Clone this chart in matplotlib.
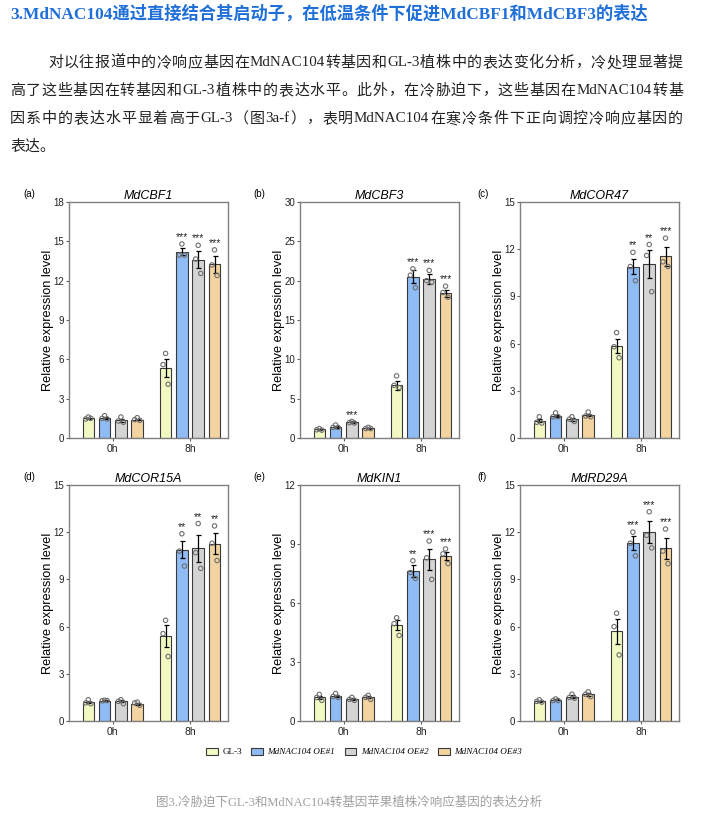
"""Cold-responsive gene expression in GL-3 and MdNAC104 OE lines (page screenshot)."""
import re

import matplotlib
matplotlib.use("Agg")
import matplotlib.pyplot as plt
from matplotlib.patches import Patch

W, H = 701, 833

TITLE = "3.MdNAC104通过直接结合其启动子，在低温条件下促进MdCBF1和MdCBF3的表达"
PARA = [
    "对以往报道中的冷响应基因在MdNAC104转基因和GL-3植株中的表达变化分析，冷处理显著提",
    "高了这些基因在转基因和GL-3植株中的表达水平。此外，在冷胁迫下，这些基因在MdNAC104转基",
    "因系中的表达水平显着高于GL-3（图3a-f），表明MdNAC104在寒冷条件下正向调控冷响应基因的",
    "表达。",
]
CAPTION = "图3.冷胁迫下GL-3和MdNAC104转基因苹果植株冷响应基因的表达分析"

times = ["0h", "8h"]
lines = ["GL-3", "MdNAC104 OE#1", "MdNAC104 OE#2", "MdNAC104 OE#3"]
genes = ["MdCBF1", "MdCBF3", "MdCOR47", "MdCOR15A", "MdKIN1", "MdRD29A"]
panel_tags = ["(a)", "(b)", "(c)", "(d)", "(e)", "(f)"]
ymax = [18, 30, 15, 15, 12, 15]
ystep = [3, 5, 3, 3, 3, 3]

# means[time][line], err = SE, pts = three replicates
cbf1_mean = [[1.5, 1.55, 1.35, 1.4], [5.35, 14.2, 13.6, 13.25]]
cbf1_err = [[0.05, 0.08, 0.1, 0.06], [0.7, 0.28, 0.66, 0.63]]
cbf1_pts = [[[1.6, 1.45, 1.5], [1.7, 1.5, 1.45], [1.6, 1.3, 1.2], [1.55, 1.4, 1.35]],
            [[6.45, 5.6, 4.1], [14.8, 13.95, 13.95], [14.7, 13.65, 12.55], [14.35, 13.2, 12.4]]]
cbf1_sig = [["", "", "", ""], ["", "***", "***", "***"]]

cbf3_mean = [[1.1, 1.45, 2.0, 1.25], [6.7, 20.5, 20.2, 18.4]]
cbf3_err = [[0.1, 0.12, 0.1, 0.08], [0.6, 0.8, 0.6, 0.45]]
cbf3_pts = [[[1.2, 1.05, 1.0], [1.65, 1.35, 1.35], [2.1, 1.95, 1.9], [1.35, 1.2, 1.2]],
            [[7.9, 6.7, 6.4], [21.5, 20.7, 19.1], [21.3, 20.0, 19.8], [19.3, 18.5, 17.9]]]
cbf3_sig = [["", "", "***", ""], ["", "***", "***", "***"]]

cor47_mean = [[1.1, 1.42, 1.18, 1.46], [5.87, 10.9, 11.05, 11.55]]
cor47_err = [[0.1, 0.07, 0.08, 0.08], [0.45, 0.5, 0.9, 0.6]]
cor47_pts = [[[1.35, 1.0, 0.95], [1.6, 1.35, 1.35], [1.35, 1.2, 1.05], [1.65, 1.4, 1.35]],
             [[6.7, 5.8, 5.1], [11.8, 10.9, 10.0], [12.3, 11.6, 9.3], [12.7, 11.2, 10.9]]]
cor47_sig = [["", "", "", ""], ["", "**", "**", "***"]]

cor15_mean = [[1.2, 1.3, 1.25, 1.1], [5.38, 10.9, 10.98, 11.28]]
cor15_err = [[0.06, 0.03, 0.07, 0.06], [0.7, 0.55, 0.85, 0.65]]
cor15_pts = [[[1.35, 1.15, 1.1], [1.32, 1.28, 1.3], [1.35, 1.25, 1.1], [1.2, 1.15, 1.0]],
             [[6.4, 5.55, 4.1], [11.9, 10.8, 9.85], [12.55, 10.7, 9.7], [12.4, 11.3, 10.2]]]
cor15_sig = [["", "", "", ""], ["", "**", "**", "**"]]

kin1_mean = [[1.2, 1.28, 1.1, 1.2], [4.88, 7.64, 8.22, 8.4]]
kin1_err = [[0.08, 0.06, 0.05, 0.05], [0.25, 0.3, 0.55, 0.2]]
kin1_pts = [[[1.35, 1.2, 1.05], [1.4, 1.25, 1.2], [1.2, 1.1, 1.05], [1.3, 1.2, 1.1]],
            [[5.25, 4.95, 4.35], [8.15, 7.55, 7.25], [9.15, 8.3, 7.2], [8.75, 8.5, 8.0]]]
kin1_sig = [["", "", "", ""], ["", "**", "***", "***"]]

rd29_mean = [[1.25, 1.35, 1.55, 1.7], [5.7, 11.3, 12.03, 10.97]]
rd29_err = [[0.05, 0.04, 0.08, 0.09], [0.8, 0.45, 0.7, 0.65]]
rd29_pts = [[[1.35, 1.25, 1.2], [1.4, 1.3, 1.3], [1.7, 1.5, 1.45], [1.85, 1.7, 1.55]],
            [[6.85, 6.0, 4.2], [12.0, 11.3, 10.5], [13.3, 11.8, 11.0], [12.2, 10.8, 10.0]]]
rd29_sig = [["", "", "", ""], ["", "***", "***", "***"]]

MEANS = [cbf1_mean, cbf3_mean, cor47_mean, cor15_mean, kin1_mean, rd29_mean]
ERRS = [cbf1_err, cbf3_err, cor47_err, cor15_err, kin1_err, rd29_err]
POINTS = [cbf1_pts, cbf3_pts, cor47_pts, cor15_pts, kin1_pts, rd29_pts]
SIGS = [cbf1_sig, cbf3_sig, cor47_sig, cor15_sig, kin1_sig, rd29_sig]

COLORS = ["#f3f9c3", "#8fbcf5", "#d4d4d4", "#f3d4a0"]
SANS = ["Liberation Sans", "DejaVu Sans"]
SERIF_CJK = ["Liberation Serif", "Noto Sans CJK SC", "DejaVu Sans"]

plt.rcParams.update({
    "font.family": SANS,
    "axes.edgecolor": "#808080",
    "axes.linewidth": 1.0,
    "xtick.color": "#606060",
    "ytick.color": "#606060",
    "xtick.labelcolor": "#222222",
    "ytick.labelcolor": "#222222",
})


def fy(py):
    return 1 - py / H


def justified(fig, text, x0, x1, py, **kw):
    """Spread tokens (single CJK chars / latin runs) so the line fills x0..x1 px."""
    toks = re.findall(r"[A-Za-z0-9#\-\.]+|.", text)
    rend = fig.canvas.get_renderer()
    arts, widths = [], []
    for t in toks:
        a = fig.text(0, fy(py), t, va="center", ha="left", **kw)
        arts.append(a)
        widths.append(a.get_window_extent(rend).width)
    gap = (x1 - x0 - sum(widths)) / max(len(toks) - 1, 1)
    x = x0
    for a, w in zip(arts, widths):
        a.set_x(x / W)
        x += w + gap


fig = plt.figure(figsize=(W / 100, H / 100), dpi=100)

# page text
fig.text(10 / W, fy(14), TITLE, color="#1f6fd9", fontsize=12.4, fontweight="bold",
         family=SERIF_CJK, va="center", ha="left")
for i, ln in enumerate(PARA):
    x0 = 48 if i == 0 else 10
    kw = dict(color="#222222", fontsize=10.8, family=SERIF_CJK)
    if i < len(PARA) - 1:
        justified(fig, ln, x0, 683, 63 + 28 * i, **kw)
    else:
        fig.text(x0 / W, fy(63 + 28 * i), ln, va="center", ha="left", **kw)

# panels
col_left = [69, 300, 520]
row_top = [202, 485]
ax_w, ax_h = 159, 236
step, bw = 0.211, 0.149
offs = [-1.5, -0.5, 0.5, 1.5]
jit = [0.0, -0.22, 0.22]

for k, gene in enumerate(genes):
    r, c = divmod(k, 3)
    left, top = col_left[c], row_top[r]
    ax = fig.add_axes([left / W, fy(top + ax_h), ax_w / W, ax_h / H])
    for ti in range(len(times)):
        for li in range(len(lines)):
            x = ti + offs[li] * step
            m = MEANS[k][ti][li]
            e = ERRS[k][ti][li]
            ax.bar(x, m, width=bw, color=COLORS[li], edgecolor="#3a3a3a", linewidth=0.8, zorder=2)
            ax.errorbar(x, m, yerr=e, fmt="none", ecolor="black", elinewidth=0.9,
                        capsize=1.8, capthick=0.9, zorder=3)
            pts = POINTS[k][ti][li]
            ax.scatter([x + j * bw for j in jit], pts, s=10, facecolors="none",
                       edgecolors="#6e6e6e", linewidths=0.8, zorder=4)
            s = SIGS[k][ti][li]
            if s:
                top_val = max(max(pts), m + e)
                ax.text(x, top_val + 0.008 * ymax[k], s, ha="center", va="bottom",
                        fontsize=7.5, color="#222222", zorder=5)
    ax.set_xlim(-0.566, 1.491)
    ax.set_ylim(0, ymax[k])
    ax.set_yticks(range(0, ymax[k] + 1, ystep[k]))
    ax.set_xticks(range(len(times)))
    ax.set_xticklabels(times)
    ax.tick_params(labelsize=7.5, length=2.5, width=0.8, pad=1.5)
    ax.tick_params(axis="y", labelsize=7, pad=1)
    ax.set_ylabel("Relative expression level", fontsize=9.2)
    ax.yaxis.set_label_coords(-15 / ax_w, 0.5)
    ax.set_title(gene, fontsize=9, style="italic", pad=2)
    tag_x = [23, 253, 477][c]
    fig.text(tag_x / W, fy(top - 8), panel_tags[k], fontsize=7, va="center", ha="left")

# legend
handles = [Patch(facecolor=COLORS[i], edgecolor="#3a3a3a", linewidth=0.8) for i in range(4)]
leg = fig.legend(handles, lines, loc="center", bbox_to_anchor=(364 / W, fy(752)), ncol=4,
                 frameon=False, handlelength=1.3, handleheight=0.8, handletextpad=0.5,
                 columnspacing=1.0, prop={"family": "Liberation Serif", "size": 6.6})
for t in leg.get_texts()[1:]:
    t.set_style("italic")

fig.text(349 / W, fy(803), CAPTION, color="#a0a0a0", fontsize=9, family=SERIF_CJK,
         ha="center", va="center")

fig.savefig("out.png", dpi=100)
